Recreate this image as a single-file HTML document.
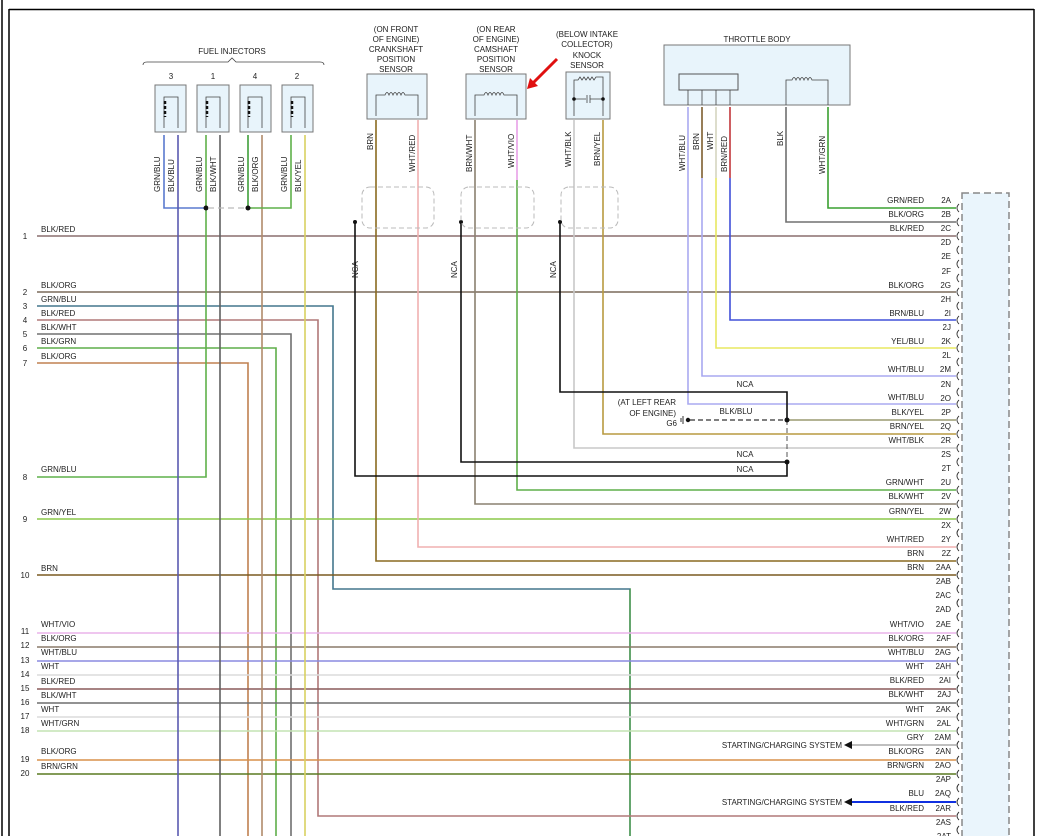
<!DOCTYPE html>
<html><head><meta charset="utf-8"><style>
html,body{margin:0;padding:0;background:#fff;}
svg{display:block;font-family:"Liberation Sans",sans-serif;}
text{font-size:8px;fill:#222;}
</style></head><body>
<svg width="1049" height="836" viewBox="0 0 1049 836" xmlns="http://www.w3.org/2000/svg">
<!-- borders -->
<line x1="2" y1="0" x2="2" y2="836" stroke="#000" stroke-width="1.5"/>
<line x1="9" y1="9" x2="9" y2="836" stroke="#000" stroke-width="1.5"/>
<line x1="9" y1="9.5" x2="1034" y2="9.5" stroke="#000" stroke-width="1.5"/>
<line x1="1034" y1="9" x2="1034" y2="836" stroke="#000" stroke-width="1.5"/>

<!-- right connector box -->
<rect x="962" y="193" width="47" height="660" fill="#eaf5fc" stroke="#888" stroke-width="1.5" stroke-dasharray="7,4"/>

<g fill="none" stroke-width="1.6">
<!-- Left rows -->
<polyline points="37,236 956,236" stroke="#8a6e6e"/>
<polyline points="37,292 956,292" stroke="#7a6a5a"/>
<polyline points="37,306 333,306 333,589 630,589 630,836" stroke="#3f8f4a"/>
<polyline points="37,306 333,306 333,589 630,589" stroke="#4a5fd0" stroke-width="0.8"/>
<polyline points="37,320 318,320 318,816 956,816" stroke="#b07878"/>
<polyline points="37,334 291,334 291,836" stroke="#707070"/>
<polyline points="37,348 276,348 276,836" stroke="#5fae4a"/>
<polyline points="37,363 248,363 248,836" stroke="#c08050"/>
<polyline points="37,477 206,477 206,208" stroke="#5fb04a"/>
<polyline points="37,519 956,519" stroke="#8cc84a"/>
<polyline points="37,575 956,575" stroke="#7a5a20"/>
<polyline points="37,633 956,633" stroke="#eab4ea"/>
<polyline points="37,647 956,647" stroke="#8a7a6a"/>
<polyline points="37,661 956,661" stroke="#8a8ae0"/>
<polyline points="37,675 956,675" stroke="#dcdcdc"/>
<polyline points="37,689 956,689" stroke="#8a5a5a"/>
<polyline points="37,703 956,703" stroke="#6e6e6e"/>
<polyline points="37,717 956,717" stroke="#dcdcdc"/>
<polyline points="37,731 956,731" stroke="#c4e4b4"/>
<polyline points="37,760 956,760" stroke="#d8904a"/>
<polyline points="37,774 956,774" stroke="#5a7a20"/>

<!-- injector verticals -->
<polyline points="164,135 164,208 206,208" stroke="#5a7acf"/>
<polyline points="178,135 178,836" stroke="#5a5ab0"/>
<polyline points="206,135 206,208" stroke="#5fb04a"/>
<polyline points="220,135 220,836" stroke="#606060"/>
<polyline points="248,135 248,208" stroke="#3f9f3a"/>
<polyline points="262,135 262,836" stroke="#b08a6a"/>
<polyline points="291,135 291,208 248,208" stroke="#5fb04a"/>
<polyline points="305,135 305,836" stroke="#d8d060"/>

<!-- sensor wires -->
<polyline points="376,120 376,561 956,561" stroke="#8a6a20"/>
<polyline points="418,120 418,547 956,547" stroke="#f0b0b0"/>
<polyline points="475,120 475,504 956,504" stroke="#8a8070"/>
<polyline points="517,120 517,180" stroke="#e8a0e8"/>
<polyline points="517,180 517,490 956,490" stroke="#5faf4a"/>
<polyline points="574,120 574,448 956,448" stroke="#c8c8c8"/>
<polyline points="603,120 603,434 956,434" stroke="#b89a40"/>

<!-- throttle wires -->
<polyline points="688,107 688,404 956,404" stroke="#aaaaf0"/>
<polyline points="702,107 702,376 956,376" stroke="#a8a8f0"/>
<polyline points="702,107 702,178" stroke="#8a6a30"/>
<polyline points="716,107 716,348 956,348" stroke="#e8e860"/>
<polyline points="716,107 716,178" stroke="#d8d8d8"/>
<polyline points="730,107 730,320 956,320" stroke="#4050d8"/>
<polyline points="730,107 730,178" stroke="#e05040"/>
<polyline points="786,107 786,222 956,222" stroke="#707070"/>
<polyline points="828,107 828,208 956,208" stroke="#3aa030"/>
<polyline points="787,420 956,420" stroke="#9a9a70"/>

<!-- NCA black -->
<polyline points="355,222 355,476 787,476 787,462" stroke="#111"/>
<polyline points="461,222 461,462 787,462" stroke="#111"/>
<polyline points="560,222 560,392 787,392 787,420" stroke="#111"/>
<line x1="787" y1="420" x2="787" y2="462" stroke="#555" stroke-dasharray="5,3" stroke-width="1"/>
<line x1="690" y1="420" x2="787" y2="420" stroke="#555" stroke-dasharray="5,3"/>

<!-- starting/charging arrows -->
<line x1="852" y1="745" x2="956" y2="745" stroke="#aaa"/>
<line x1="852" y1="802" x2="956" y2="802" stroke="#1030e0" stroke-width="2"/>
</g>
<polygon points="844,745 852,741 852,749" fill="#111"/>
<polygon points="844,802 852,798 852,806" fill="#111"/>

<!-- junction dots -->
<g fill="#111">
<circle cx="206" cy="208" r="2.5"/><circle cx="248" cy="208" r="2.5"/>
<circle cx="355" cy="222" r="2"/><circle cx="461" cy="222" r="2"/><circle cx="560" cy="222" r="2"/>
<circle cx="787" cy="420" r="2.5"/><circle cx="787" cy="462" r="2.5"/><circle cx="688" cy="420" r="2.2"/>
</g>
<line x1="683" y1="416" x2="683" y2="424" stroke="#333"/>
<line x1="681" y1="418" x2="681" y2="422" stroke="#333"/>
<line x1="208" y1="208" x2="246" y2="208" stroke="#bbb" stroke-dasharray="6,4" stroke-width="1.2"/>

<!-- shields -->
<g fill="none" stroke="#bbb" stroke-dasharray="5,3" stroke-width="1">
<rect x="362" y="187" width="72" height="41" rx="8"/>
<rect x="461" y="187" width="73" height="41" rx="8"/>
<rect x="561" y="187" width="57" height="41" rx="8"/>
</g>

<!-- injectors -->
<text x="232" y="54" text-anchor="middle">FUEL INJECTORS</text>
<path d="M143,65 q0,-3 4,-3 H228 l4,-4 l4,4 H320 q4,0 4,3" fill="none" stroke="#444" stroke-width="0.8"/>
<g fill="#e8f4fb" stroke="#777">
<rect x="155" y="85" width="31" height="47"/><rect x="197" y="85" width="32" height="47"/>
<rect x="240" y="85" width="31" height="47"/><rect x="282" y="85" width="31" height="47"/>
</g>
<g fill="none" stroke="#444" stroke-width="0.8">
<path d="M164,128 V97 H178 V128"/><path d="M206,128 V97 H220 V128"/><path d="M248,128 V97 H262 V128"/><path d="M291,128 V97 H305 V128"/>
</g>
<g stroke="#111" stroke-width="2.5" stroke-dasharray="3,2"><line x1="165" y1="101" x2="165" y2="117"/><line x1="207" y1="101" x2="207" y2="117"/><line x1="249" y1="101" x2="249" y2="117"/><line x1="292" y1="101" x2="292" y2="117"/></g>
<text x="171" y="79" text-anchor="middle">3</text><text x="213" y="79" text-anchor="middle">1</text>
<text x="255" y="79" text-anchor="middle">4</text><text x="297" y="79" text-anchor="middle">2</text>

<!-- crank/cam/knock -->
<g text-anchor="middle">
<text x="396" y="32">(ON FRONT</text><text x="396" y="42">OF ENGINE)</text><text x="396" y="52">CRANKSHAFT</text><text x="396" y="62">POSITION</text><text x="396" y="72">SENSOR</text>
<text x="496" y="32">(ON REAR</text><text x="496" y="42">OF ENGINE)</text><text x="496" y="52">CAMSHAFT</text><text x="496" y="62">POSITION</text><text x="496" y="72">SENSOR</text>
<text x="587" y="37">(BELOW INTAKE</text><text x="587" y="47">COLLECTOR)</text><text x="587" y="58">KNOCK</text><text x="587" y="68">SENSOR</text>
<text x="757" y="42">THROTTLE BODY</text>
<text x="709" y="60">THROTTLE</text><text x="714" y="71">POSITION SENSOR</text>
<text x="807" y="63">THROTTLE</text><text x="807" y="73">ACTUATOR</text>
</g>
<g fill="#e8f4fb" stroke="#777">
<rect x="367" y="74" width="60" height="45"/><rect x="466" y="74" width="60" height="45"/><rect x="566" y="72" width="44" height="47"/>
<rect x="664" y="45" width="186" height="60"/>
</g>
<rect x="679" y="74" width="59" height="16" fill="#e8f4fb" stroke="#555"/>
<g fill="none" stroke="#444" stroke-width="0.8">
<path d="M376,116 V95 H385 q2,-5 4,0 q2,-5 4,0 q2,-5 4,0 q2,-5 4,0 q2,-5 4,0 H418 V116"/>
<path d="M475,116 V95 H484 q2,-5 4,0 q2,-5 4,0 q2,-5 4,0 q2,-5 4,0 q2,-5 4,0 H517 V116"/>
<path d="M574,116 V80 H578 l2,-3 l2,3 l2,-3 l2,3 l2,-3 l2,3 l2,-3 l2,3 l2,-3 H603 V116 M574,99 H586 M590,99 H603 M587,95 V103 M590,95 V103"/>
<path d="M688,105 V90 M702,105 V90 M716,105 V90 M730,105 V90"/>
<path d="M786,105 V80 H792 q2,-5 4,0 q2,-5 4,0 q2,-5 4,0 q2,-5 4,0 q2,-5 4,0 H828 V105"/>
</g>
<circle cx="574" cy="99" r="1.8" fill="#111"/><circle cx="603" cy="99" r="1.8" fill="#111"/>
<!-- red arrow -->
<line x1="557" y1="59" x2="532" y2="84" stroke="#e01010" stroke-width="3"/>
<polygon points="527,89 530,78 538,86" fill="#e01010"/>

<!-- vertical labels -->
<g>
<text transform="translate(160,192) rotate(-90)">GRN/BLU</text><text transform="translate(174,192) rotate(-90)">BLK/BLU</text>
<text transform="translate(202,192) rotate(-90)">GRN/BLU</text><text transform="translate(216,192) rotate(-90)">BLK/WHT</text>
<text transform="translate(244,192) rotate(-90)">GRN/BLU</text><text transform="translate(258,192) rotate(-90)">BLK/ORG</text>
<text transform="translate(287,192) rotate(-90)">GRN/BLU</text><text transform="translate(301,192) rotate(-90)">BLK/YEL</text>
<text transform="translate(373,150) rotate(-90)">BRN</text><text transform="translate(415,172) rotate(-90)">WHT/RED</text>
<text transform="translate(472,172) rotate(-90)">BRN/WHT</text><text transform="translate(514,168) rotate(-90)">WHT/VIO</text>
<text transform="translate(571,167) rotate(-90)">WHT/BLK</text><text transform="translate(600,166) rotate(-90)">BRN/YEL</text>
<text transform="translate(685,171) rotate(-90)">WHT/BLU</text><text transform="translate(699,150) rotate(-90)">BRN</text>
<text transform="translate(713,150) rotate(-90)">WHT</text><text transform="translate(727,172) rotate(-90)">BRN/RED</text>
<text transform="translate(783,146) rotate(-90)">BLK</text><text transform="translate(825,174) rotate(-90)">WHT/GRN</text>
<text transform="translate(358,278) rotate(-90)">NCA</text><text transform="translate(457,278) rotate(-90)">NCA</text><text transform="translate(556,278) rotate(-90)">NCA</text>
</g>

<!-- left labels -->
<g>
<text x="41" y="232">BLK/RED</text><text x="41" y="288">BLK/ORG</text><text x="41" y="302">GRN/BLU</text><text x="41" y="316">BLK/RED</text>
<text x="41" y="330">BLK/WHT</text><text x="41" y="344">BLK/GRN</text><text x="41" y="359">BLK/ORG</text><text x="41" y="472">GRN/BLU</text>
<text x="41" y="515">GRN/YEL</text><text x="41" y="571">BRN</text><text x="41" y="627">WHT/VIO</text><text x="41" y="641">BLK/ORG</text>
<text x="41" y="655">WHT/BLU</text><text x="41" y="669">WHT</text><text x="41" y="684">BLK/RED</text><text x="41" y="698">BLK/WHT</text>
<text x="41" y="712">WHT</text><text x="41" y="726">WHT/GRN</text><text x="41" y="754">BLK/ORG</text><text x="41" y="769">BRN/GRN</text>
</g>
<g text-anchor="middle">
<text x="25" y="239">1</text><text x="25" y="295">2</text><text x="25" y="309">3</text><text x="25" y="323">4</text><text x="25" y="337">5</text>
<text x="25" y="351">6</text><text x="25" y="366">7</text><text x="25" y="480">8</text><text x="25" y="522">9</text><text x="25" y="578">10</text>
<text x="25" y="634">11</text><text x="25" y="648">12</text><text x="25" y="663">13</text><text x="25" y="677">14</text><text x="25" y="691">15</text>
<text x="25" y="705">16</text><text x="25" y="719">17</text><text x="25" y="733">18</text><text x="25" y="762">19</text><text x="25" y="776">20</text>
</g>

<!-- G6 -->
<g text-anchor="end">
<text x="676" y="405">(AT LEFT REAR</text><text x="676" y="416">OF ENGINE)</text><text x="677" y="426">G6</text>
</g>
<text x="736" y="414" text-anchor="middle">BLK/BLU</text>
<text x="745" y="387" text-anchor="middle">NCA</text>
<text x="745" y="457" text-anchor="middle">NCA</text>
<text x="745" y="472" text-anchor="middle">NCA</text>
<text x="842" y="748" text-anchor="end">STARTING/CHARGING SYSTEM</text>
<text x="842" y="805" text-anchor="end">STARTING/CHARGING SYSTEM</text>

<!-- right wire labels -->
<g text-anchor="end">
<text x="924" y="203">GRN/RED</text><text x="924" y="217">BLK/ORG</text><text x="924" y="231">BLK/RED</text><text x="924" y="288">BLK/ORG</text>
<text x="924" y="316">BRN/BLU</text><text x="924" y="344">YEL/BLU</text><text x="924" y="372">WHT/BLU</text><text x="924" y="400">WHT/BLU</text>
<text x="924" y="415">BLK/YEL</text><text x="924" y="429">BRN/YEL</text><text x="924" y="443">WHT/BLK</text><text x="924" y="485">GRN/WHT</text>
<text x="924" y="499">BLK/WHT</text><text x="924" y="514">GRN/YEL</text><text x="924" y="542">WHT/RED</text><text x="924" y="556">BRN</text>
<text x="924" y="570">BRN</text><text x="924" y="627">WHT/VIO</text><text x="924" y="641">BLK/ORG</text><text x="924" y="655">WHT/BLU</text>
<text x="924" y="669">WHT</text><text x="924" y="683">BLK/RED</text><text x="924" y="697">BLK/WHT</text><text x="924" y="712">WHT</text>
<text x="924" y="726">WHT/GRN</text><text x="924" y="740">GRY</text><text x="924" y="754">BLK/ORG</text><text x="924" y="768">BRN/GRN</text>
<text x="924" y="796">BLU</text><text x="924" y="811">BLK/RED</text>
</g>
<g text-anchor="end" id="pins">
<text x="951" y="203">2A</text><text x="951" y="217">2B</text><text x="951" y="231">2C</text><text x="951" y="245">2D</text>
<text x="951" y="259">2E</text><text x="951" y="274">2F</text><text x="951" y="288">2G</text><text x="951" y="302">2H</text>
<text x="951" y="316">2I</text><text x="951" y="330">2J</text><text x="951" y="344">2K</text><text x="951" y="358">2L</text>
<text x="951" y="372">2M</text><text x="951" y="387">2N</text><text x="951" y="401">2O</text><text x="951" y="415">2P</text>
<text x="951" y="429">2Q</text><text x="951" y="443">2R</text><text x="951" y="457">2S</text><text x="951" y="471">2T</text>
<text x="951" y="485">2U</text><text x="951" y="499">2V</text><text x="951" y="514">2W</text><text x="951" y="528">2X</text>
<text x="951" y="542">2Y</text><text x="951" y="556">2Z</text><text x="951" y="570">2AA</text><text x="951" y="584">2AB</text>
<text x="951" y="598">2AC</text><text x="951" y="612">2AD</text><text x="951" y="627">2AE</text><text x="951" y="641">2AF</text>
<text x="951" y="655">2AG</text><text x="951" y="669">2AH</text><text x="951" y="683">2AI</text><text x="951" y="697">2AJ</text>
<text x="951" y="712">2AK</text><text x="951" y="726">2AL</text><text x="951" y="740">2AM</text><text x="951" y="754">2AN</text>
<text x="951" y="768">2AO</text><text x="951" y="782">2AP</text><text x="951" y="796">2AQ</text><text x="951" y="811">2AR</text>
<text x="951" y="825">2AS</text><text x="951" y="839">2AT</text>
</g>
<!-- pin cups -->
<g fill="none" stroke="#333" stroke-width="0.9">
<path d="M959,204 q-4,4 0,8 M959,218 q-4,4 0,8 M959,232 q-4,4 0,8 M959,246 q-4,4 0,8 M959,260 q-4,4 0,8 M959,274 q-4,4 0,8 M959,288 q-4,4 0,8 M959,302 q-4,4 0,8 M959,316 q-4,4 0,8 M959,330 q-4,4 0,8 M959,344 q-4,4 0,8 M959,358 q-4,4 0,8 M959,372 q-4,4 0,8 M959,388 q-4,4 0,8 M959,400 q-4,4 0,8 M959,416 q-4,4 0,8 M959,430 q-4,4 0,8 M959,444 q-4,4 0,8 M959,458 q-4,4 0,8 M959,472 q-4,4 0,8 M959,486 q-4,4 0,8 M959,500 q-4,4 0,8 M959,515 q-4,4 0,8 M959,529 q-4,4 0,8 M959,543 q-4,4 0,8 M959,557 q-4,4 0,8 M959,571 q-4,4 0,8 M959,585 q-4,4 0,8 M959,599 q-4,4 0,8 M959,613 q-4,4 0,8 M959,629 q-4,4 0,8 M959,643 q-4,4 0,8 M959,657 q-4,4 0,8 M959,671 q-4,4 0,8 M959,685 q-4,4 0,8 M959,699 q-4,4 0,8 M959,713 q-4,4 0,8 M959,727 q-4,4 0,8 M959,741 q-4,4 0,8 M959,756 q-4,4 0,8 M959,770 q-4,4 0,8 M959,784 q-4,4 0,8 M959,798 q-4,4 0,8 M959,812 q-4,4 0,8 M959,826 q-4,4 0,8"/>
</g>
</svg>
</body></html>
